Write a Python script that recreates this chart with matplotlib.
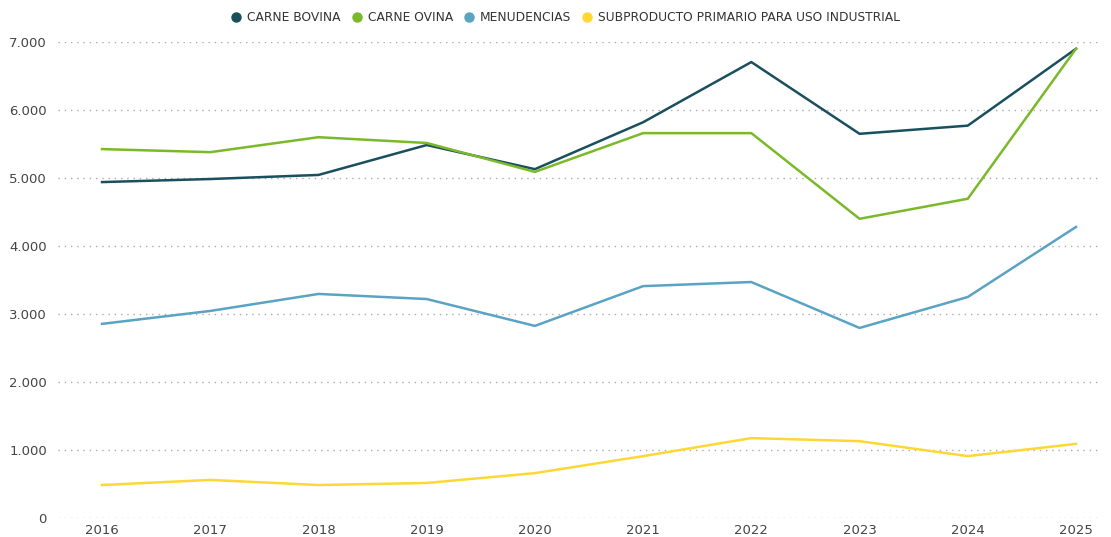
import matplotlib.pyplot as plt
from matplotlib.lines import Line2D

years = [2016, 2017, 2018, 2019, 2020, 2021, 2022, 2023, 2024, 2025]
carne_bovina = [4940, 4985, 5045, 5485, 5130, 5820, 6705, 5650, 5770, 6900]
carne_ovina = [5425, 5380, 5600, 5515, 5090, 5660, 5660, 4400, 4695, 6900]
menudencias = [2855, 3045, 3295, 3220, 2825, 3410, 3470, 2795, 3250, 4280]
subproducto = [485, 560, 485, 515, 660, 910, 1175, 1130, 910, 1090]

series = [
    ('CARNE BOVINA', carne_bovina, '#1a4f5e'),
    ('CARNE OVINA', carne_ovina, '#7ab929'),
    ('MENUDENCIAS', menudencias, '#5aa3c4'),
    ('SUBPRODUCTO PRIMARIO PARA USO INDUSTRIAL', subproducto, '#fdd835'),
]

yticks = [0, 1000, 2000, 3000, 4000, 5000, 6000, 7000]
ytick_labels = ['0', '1.000', '2.000', '3.000', '4.000', '5.000', '6.000', '7.000']

plt.rcParams['font.family'] = ['DejaVu Sans']

fig = plt.figure(figsize=(11.11, 5.37), dpi=100)
ax = fig.add_axes([58 / 1111, 19 / 537, 1042 / 1111, 476 / 537])

for name, vals, col in series:
    ax.plot(years, vals, color=col, linewidth=1.8, label=name)

ax.set_xlim(2015.593, 2025.222)
ax.set_ylim(0, 7000)
ax.set_yticks(yticks)
ax.set_yticklabels(ytick_labels)
ax.set_xticks(years)
ax.set_xticklabels([str(y) for y in years])
ax.grid(axis='y', linestyle=(0, (1, 3.5)), color='#aaaaaa', linewidth=1)
ax.set_axisbelow(True)
for s in ax.spines.values():
    s.set_visible(False)
ax.tick_params(axis='both', length=0, labelsize=9.5, colors='#444444')
ax.tick_params(axis='y', pad=8)
ax.tick_params(axis='x', pad=4)

handles = [Line2D([], [], marker='o', linestyle='', color=c, markersize=6.5) for _, _, c in series]
fig.legend(handles, [n for n, _, _ in series], loc='upper center', bbox_to_anchor=(0.506, 1.0),
           ncol=4, frameon=False, fontsize=8.8, handletextpad=-0.1, columnspacing=0.3,
           labelcolor='#333333')

fig.savefig('out.png', dpi=100)
